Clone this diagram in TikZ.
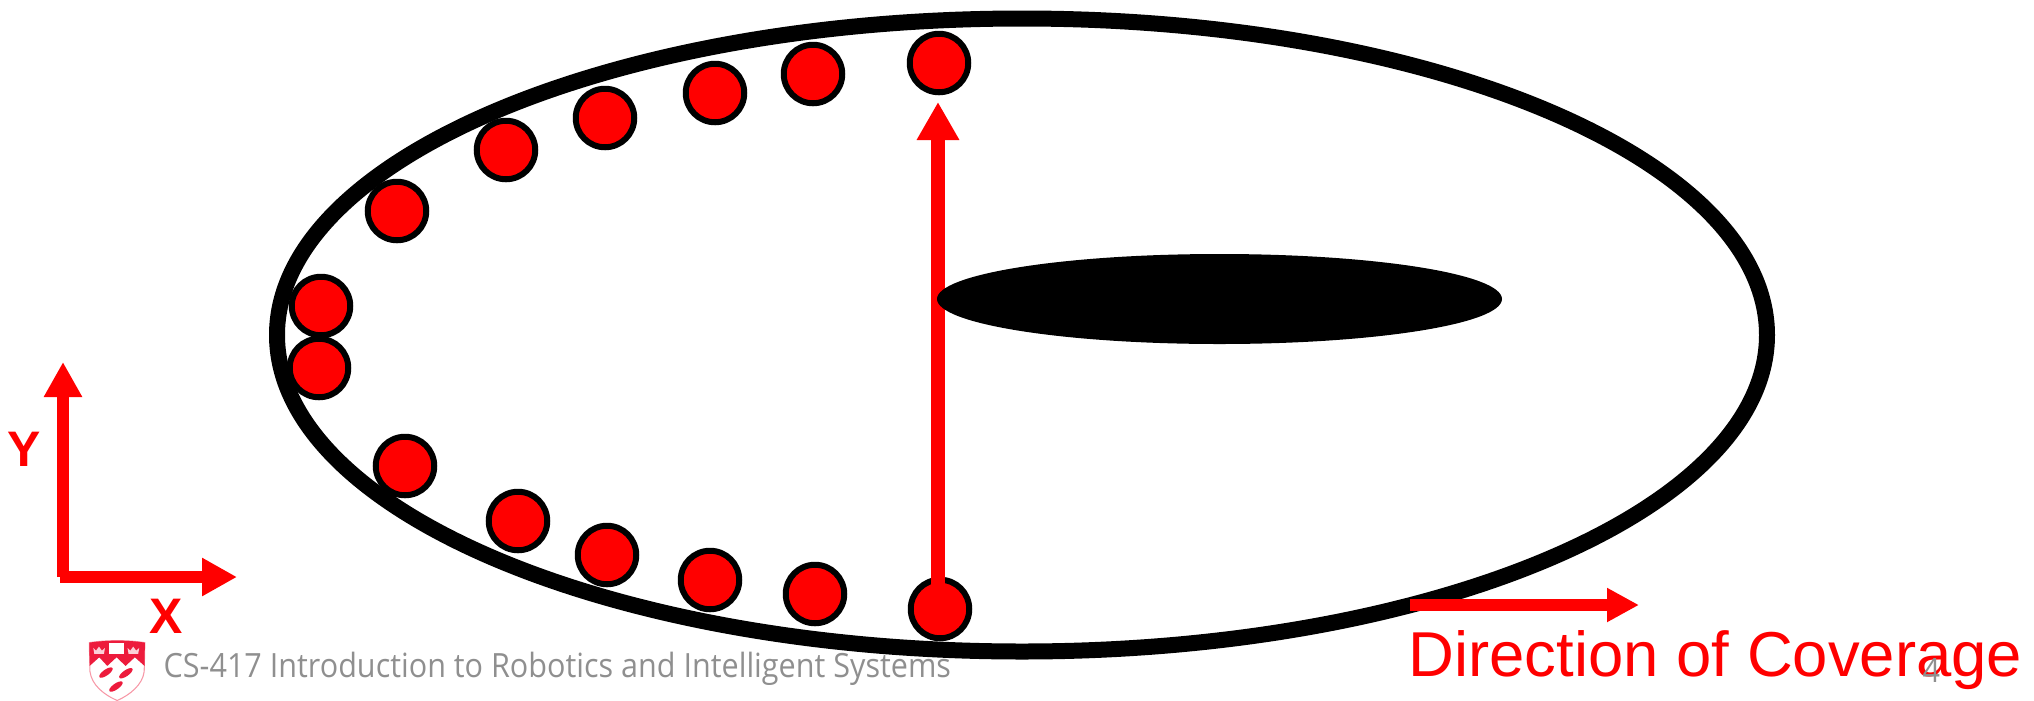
\documentclass[tikz,border=0pt]{standalone}
\usepackage{fontspec}
\setmainfont{Liberation Sans}
\newfontfamily\footerfont{Open Sans}
\usetikzlibrary{arrows.meta}
\definecolor{footergray}{HTML}{8F8F8F}
\definecolor{shieldred}{HTML}{ED1B3C}
\tikzset{
  robot/.style={circle,draw=black,fill=red,line width=0.06cm,minimum size=0.585cm,inner sep=0pt},
  sweep/.style={draw=red,line width=0.12cm},
  axislabel/.style={text=red,inner sep=0pt,font=\fontsize{14.2pt}{15pt}\selectfont\bfseries},
  footer/.style={text=footergray,inner sep=0pt,anchor=base west,xscale=0.915,transform shape,font=\footerfont\fontsize{9.5pt}{10pt}\selectfont}
}
\begin{document}
\begin{tikzpicture}
      \useasboundingbox (0,0) rectangle (20.34,7);

      % Free space
      \draw[line width=0.16cm] (10.22,3.65) ellipse (7.45 and 3.165);

      % Robot positions
      \foreach \x/\y/\n in {9.39/6.37/1,8.13/6.26/2,7.15/6.07/3,6.05/5.82/4,5.06/5.50/5,3.97/4.89/6,
          3.21/3.94/7,3.19/3.32/8,4.05/2.34/9,5.18/1.79/10,6.07/1.45/11,7.10/1.20/12,8.15/1.06/13,9.40/0.91/14}
        \node[robot] (robot\n) at (\x,\y) {};

      % Sweep line
      \coordinate (sweeptip) at (9.38,5.98);
      \draw[sweep,line width=0.135cm,-{Triangle[length=0.38cm,width=0.40cm]}] (sweeptip |- robot14.center) -- (sweeptip);

      % Obstacle
      \fill (12.195,4.01) ellipse (2.825 and 0.45);

      % Coordinate frame
      \coordinate (origin) at (0.63,1.23);
      \coordinate (xstart) at (0.60,1.23);
      \coordinate (xtip) at (2.37,1.23);
      \coordinate (ytip) at (0.63,3.38);
      \draw[sweep,-{Triangle[length=0.35cm,width=0.36cm]}] (origin) -- (ytip);
      \draw[sweep,-{Triangle[length=0.35cm,width=0.36cm]}] (xstart) -- (xtip);
      \node[axislabel] (ylabel) at (0.24,2.51) {Y};
      \node[axislabel] (xlabel) at (1.66,0.84) {X};

      % Direction of coverage
      \coordinate (covstart) at (14.10,0.95);
      \coordinate (covtip) at (16.39,0.95);
      \draw[sweep,-{Triangle[length=0.32cm,width=0.32cm]}] (covstart) -- (covtip);
      \node[text=red,inner sep=0pt,anchor=base west,font=\fontsize{18.05pt}{19pt}\selectfont] (covlabel) at (14.08,0.24) {Direction of Coverage};

      % Footer
      \begin{scope}[shift={(0.80,0.70)},x=0.0033333cm,y=-0.0033333cm]
        \draw[draw=shieldred!45,fill=white,line width=0.3pt] (28,38) .. controls (80,30) and (145,30) .. (195,38)
          -- (193,125) .. controls (188,165) and (150,195) .. (112,212) .. controls (72,195) and (35,165) .. (30,125) -- cycle;
        \fill[shieldred] (28,38) .. controls (80,30) and (145,30) .. (195,38) -- (194,108)
          -- (165,82) -- (137,108) -- (110,82) -- (82,108) -- (58,82) -- (29,108) -- cycle;
        \fill[white] (88,40) rectangle (133,72);
        \fill[white!80!shieldred] (40,54) -- (48,62) -- (57,50) -- (66,62) -- (75,54) -- (72,72) -- (43,72) -- cycle;
        \fill[white!80!shieldred] (143,54) -- (151,62) -- (160,50) -- (169,62) -- (178,54) -- (175,72) -- (146,72) -- cycle;
        \fill[shieldred,rotate around={35:(78,128)}] (78,128) ellipse (24 and 9);
        \fill[shieldred,rotate around={35:(138,130)}] (138,130) ellipse (24 and 9);
        \fill[shieldred,rotate around={35:(108,170)}] (108,170) ellipse (24 and 9);
      \end{scope}
      \node[footer] (course) at (1.63,0.23) {CS-417 Introduction to Robotics and Intelligent Systems};
      \node[footer] (pagenum) at (19.22,0.18) {4};
  \end{tikzpicture}
\end{document}
